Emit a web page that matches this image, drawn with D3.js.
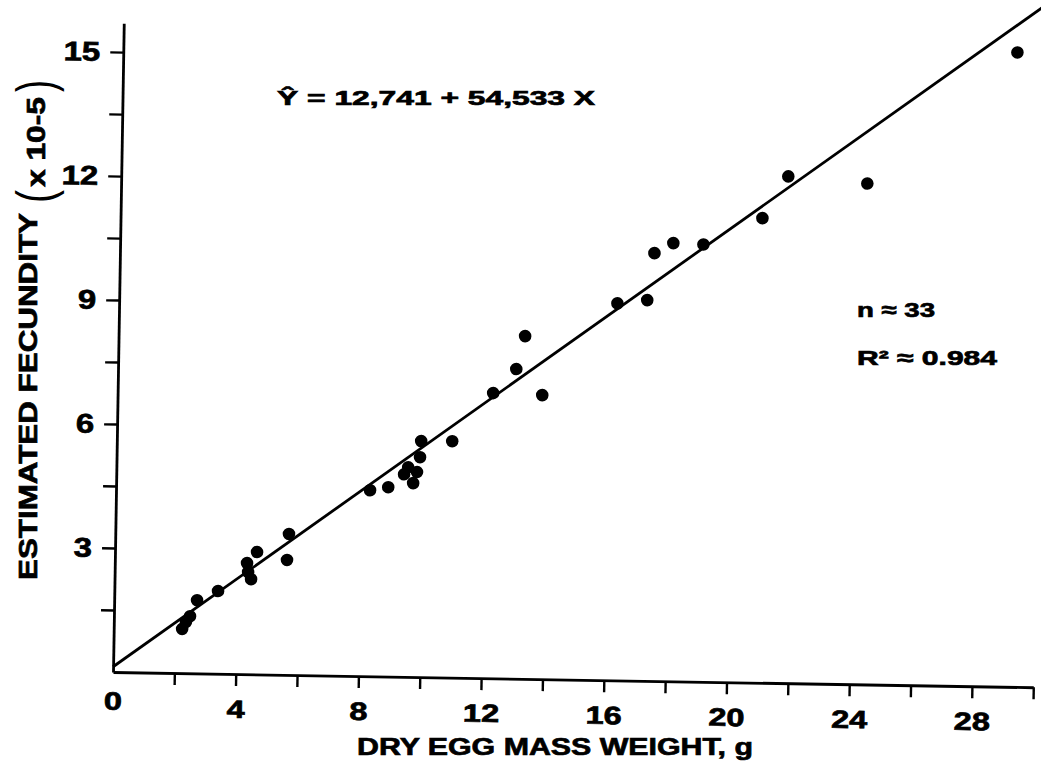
<!DOCTYPE html>
<html>
<head>
<meta charset="utf-8">
<script src="https://cdn.jsdelivr.net/npm/d3@7"></script>
<style>
  body { margin: 0; background: #fff; }
  svg { display: block; }
</style>
</head>
<body>
<svg id="chart" width="1041" height="776"></svg>
<script>
// Dry egg mass weight (g) and estimated fecundity (x 10^5 eggs), one entry per female
const eggMass = [2.23, 2.35, 2.48, 2.70, 3.38, 4.31, 4.35, 4.45, 4.63, 5.61,
                 5.66, 8.28, 8.87, 9.38, 9.51, 9.68, 9.80, 9.89, 9.92, 10.93,
                 12.24, 12.98, 13.25, 13.84, 16.24, 17.21, 17.42, 18.03, 19.01, 20.92,
                 21.74, 24.32, 29.14];
const fecundity = [1.07, 1.24, 1.38, 1.77, 2.00, 2.69, 2.47, 2.30, 2.96, 2.78,
                   3.41, 4.50, 4.58, 4.90, 5.07, 4.69, 4.96, 5.32, 5.71, 5.72,
                   6.90, 7.49, 8.29, 6.87, 9.12, 9.21, 10.35, 10.60, 10.58, 11.24,
                   12.26, 12.12, 15.35];

// Fitted regression  Y = 12,741 + 54,533 X  (eggs)
const intercept = 12741;
const slope = 54533;
const yUnit = 1e5;

// Axis ticks
const xTickValues = [0, 2, 4, 6, 8, 10, 12, 14, 16, 18, 20, 22, 24, 26, 28, 30];
const xTickLabels = [0, 4, 8, 12, 16, 20, 24, 28];
const yTickValues = [1.5, 3, 4.5, 6, 7.5, 9, 10.5, 12, 13.5, 15];
const yTickLabels = [3, 6, 9, 12, 15];

const FONT = "'Liberation Sans', Arial, sans-serif";
const svg = d3.select("#chart");

const x = d3.scaleLinear().domain([0, 30]).range([113, 1033.4]);
const y = d3.scaleLinear().domain([0, 15.7]).range([672, 23.1]);

// The plotting frame sits slightly askew on the page
const plot = svg.append("g").attr("transform", `rotate(0.95, ${x(0)}, ${y(0)})`);

// Heavy lettering
const heavy = sel => sel.attr("fill", "#000").attr("stroke", "#000").attr("stroke-width", 0.7);

// X axis
const gx = plot.append("g")
  .attr("transform", `translate(0,${y(0)})`)
  .call(d3.axisBottom(x)
    .tickValues(xTickValues)
    .tickFormat(d => xTickLabels.includes(d) ? d : "")
    .tickSize(12).tickSizeOuter(0).tickPadding(14))
  .attr("font-family", FONT).attr("font-size", 25).attr("font-weight", "bold");
gx.selectAll(".tick").filter(d => d === 0).select("line").remove();
gx.selectAll(".tick").filter(d => d === 0).select("text").attr("y", 20);
gx.select(".domain").attr("stroke", "#000").attr("stroke-width", 2.8);
gx.selectAll(".tick line").attr("stroke", "#000").attr("stroke-width", 2.4);
heavy(gx.selectAll("text")).attr("transform", "scale(1.3,1)");

// Y axis
const yStretch = 1.22;
const gy = plot.append("g")
  .attr("transform", `translate(${x(0)},0)`)
  .call(d3.axisLeft(y)
    .tickValues(yTickValues)
    .tickFormat(d => yTickLabels.includes(d) ? d : "")
    .tickSize(13).tickSizeOuter(0).tickPadding(10))
  .attr("font-family", FONT).attr("font-size", 27).attr("font-weight", "bold");
gy.select(".domain").attr("stroke", "#000").attr("stroke-width", 2.8);
gy.selectAll(".tick line").attr("stroke", "#000").attr("stroke-width", 2.4);
heavy(gy.selectAll("text"))
  .attr("x", -23 / yStretch)
  .attr("transform", `scale(${yStretch},1)`);

// Regression line
const fit = v => (intercept + slope * v) / yUnit;
plot.append("line")
  .attr("x1", x(0)).attr("y1", y(fit(0)))
  .attr("x2", x(30)).attr("y2", y(fit(30)))
  .attr("stroke", "#000").attr("stroke-width", 2.8);

// Observations
plot.append("g").selectAll("circle")
  .data(eggMass.map((m, i) => [m, fecundity[i]]))
  .join("circle")
  .attr("cx", d => x(d[0]))
  .attr("cy", d => y(d[1]))
  .attr("r", 6.3)
  .attr("fill", "#000");

// Annotations
const txt = (s, px, py, size, len) => {
  const t = svg.append("text")
    .attr("x", px).attr("y", py)
    .attr("font-family", FONT).attr("font-size", size).attr("font-weight", "bold")
    .text(s);
  heavy(t);
  if (len) t.attr("textLength", len).attr("lengthAdjust", "spacingAndGlyphs");
  return t;
};

txt("Ŷ = 12,741 + 54,533 X", 277, 105, 20, 318);
txt("n ≈ 33", 857, 317, 21, 78);
txt("R² ≈ 0.984", 857, 365, 21, 140);

// Axis titles
txt("DRY EGG MASS WEIGHT, g", 357, 755, 24, 396);

const vtxt = (s, bx, by, size, len, weight, bold) => {
  const t = svg.append("text")
    .attr("transform", `translate(${bx},${by}) rotate(-90)`)
    .attr("font-family", FONT).attr("font-size", size).attr("font-weight", weight)
    .attr("fill", "#000")
    .attr("textLength", len).attr("lengthAdjust", "spacingAndGlyphs")
    .text(s);
  if (bold) heavy(t);
  return t;
};

vtxt("ESTIMATED FECUNDITY", 37, 580, 26, 367, "bold", true);
vtxt("(", 53, 203, 52, 13, "normal", false);
vtxt("x 10-5", 45, 187, 25, 90, "bold", true);
vtxt(")", 53, 92, 52, 12, "normal", false);
</script>
</body>
</html>
